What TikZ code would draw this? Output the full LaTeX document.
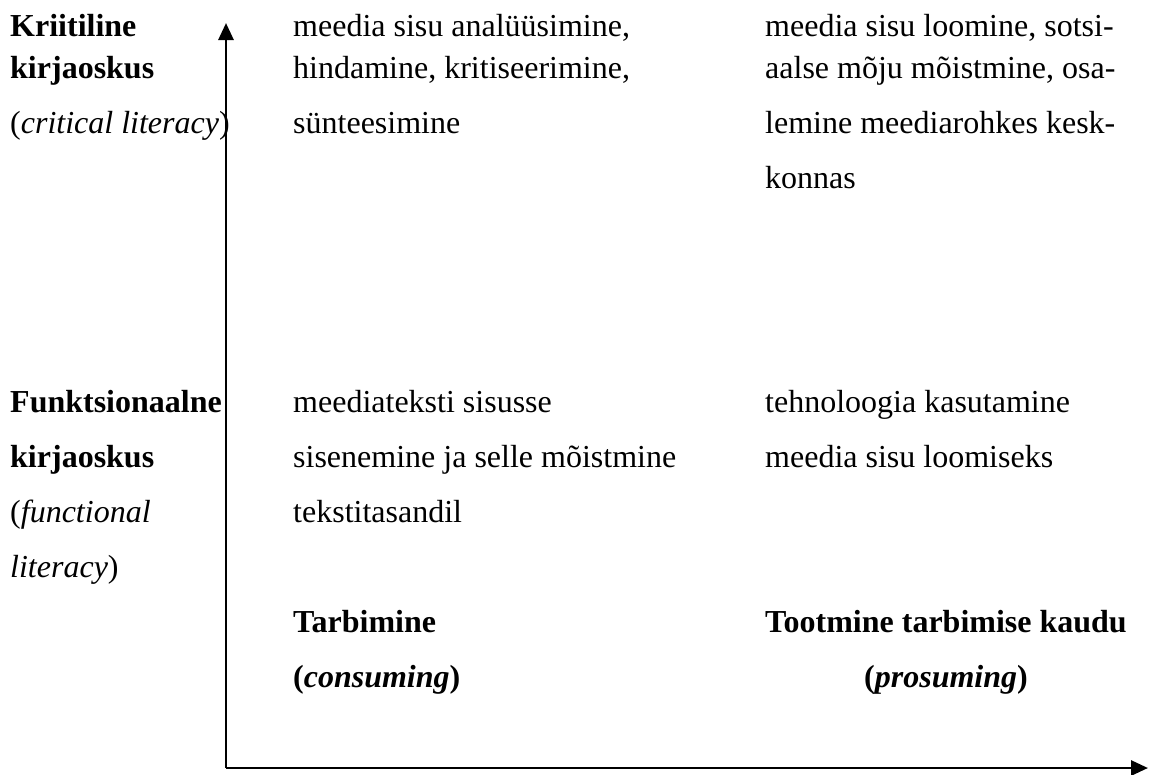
\documentclass[tikz,border=0pt]{standalone}
\usepackage{fontspec}
\setmainfont{Liberation Serif}
\usetikzlibrary{arrows.meta}

\tikzset{
  >={Triangle[length=17pt,width=15pt]},   % arrow tips of the axes
  txt/.style={anchor=base west, align=left, inner sep=0pt,
    font=\fontsize{32}{42}\selectfont},
  widetxt/.style={txt, font=\fontsize{32}{55}\selectfont},
}

\begin{document}
\begin{tikzpicture}[x=1pt,y=-1pt]
	\useasboundingbox (0,0) rectangle (1150,774);
	% axes
	\coordinate (origin) at (226,768);
	\coordinate (ytop) at (226,23);
	\coordinate (xend) at (1148,768);
	\draw[->,line width=2.8pt] (origin) -- (ytop);
	\draw[->,line width=2.8pt] (origin) -- (xend);

	% critical literacy row (nodes sit on their last line)
	\node[txt] (crit) at (10,133) {\textbf{Kriitiline}\\\textbf{kirjaoskus}\\[13pt](\textit{critical literacy})};
	\node[txt] (analyys) at (293,133) {meedia sisu analüüsimine,\\hindamine, kritiseerimine,\\[13pt]sünteesimine};
	\node[txt] (loomine) at (765,188) {meedia sisu loomine, sotsi-\\aalse mõju mõistmine, osa-\\[13pt]lemine meediarohkes kesk-\\[13pt]konnas};

	% functional literacy row
	\node[widetxt] (funkt) at (10,577) {\textbf{Funktsionaalne}\\\textbf{kirjaoskus}\\(\textit{functional}\\\textit{literacy})};
	\node[widetxt] (sisenemine) at (293,522) {meediateksti sisusse\\sisenemine ja selle mõistmine\\tekstitasandil};
	\node[widetxt] (tehnoloogia) at (765,467) {tehnoloogia kasutamine\\meedia sisu loomiseks};

	% x axis labels
	\node[widetxt] (tarbimine) at (293,687) {\textbf{Tarbimine}\\\textbf{(\textit{consuming})}};
	\node[widetxt,anchor=base,align=center] (tootmine) at (946,687) {\textbf{Tootmine tarbimise kaudu}\\\textbf{(\textit{prosuming})}};
\end{tikzpicture}
\end{document}
